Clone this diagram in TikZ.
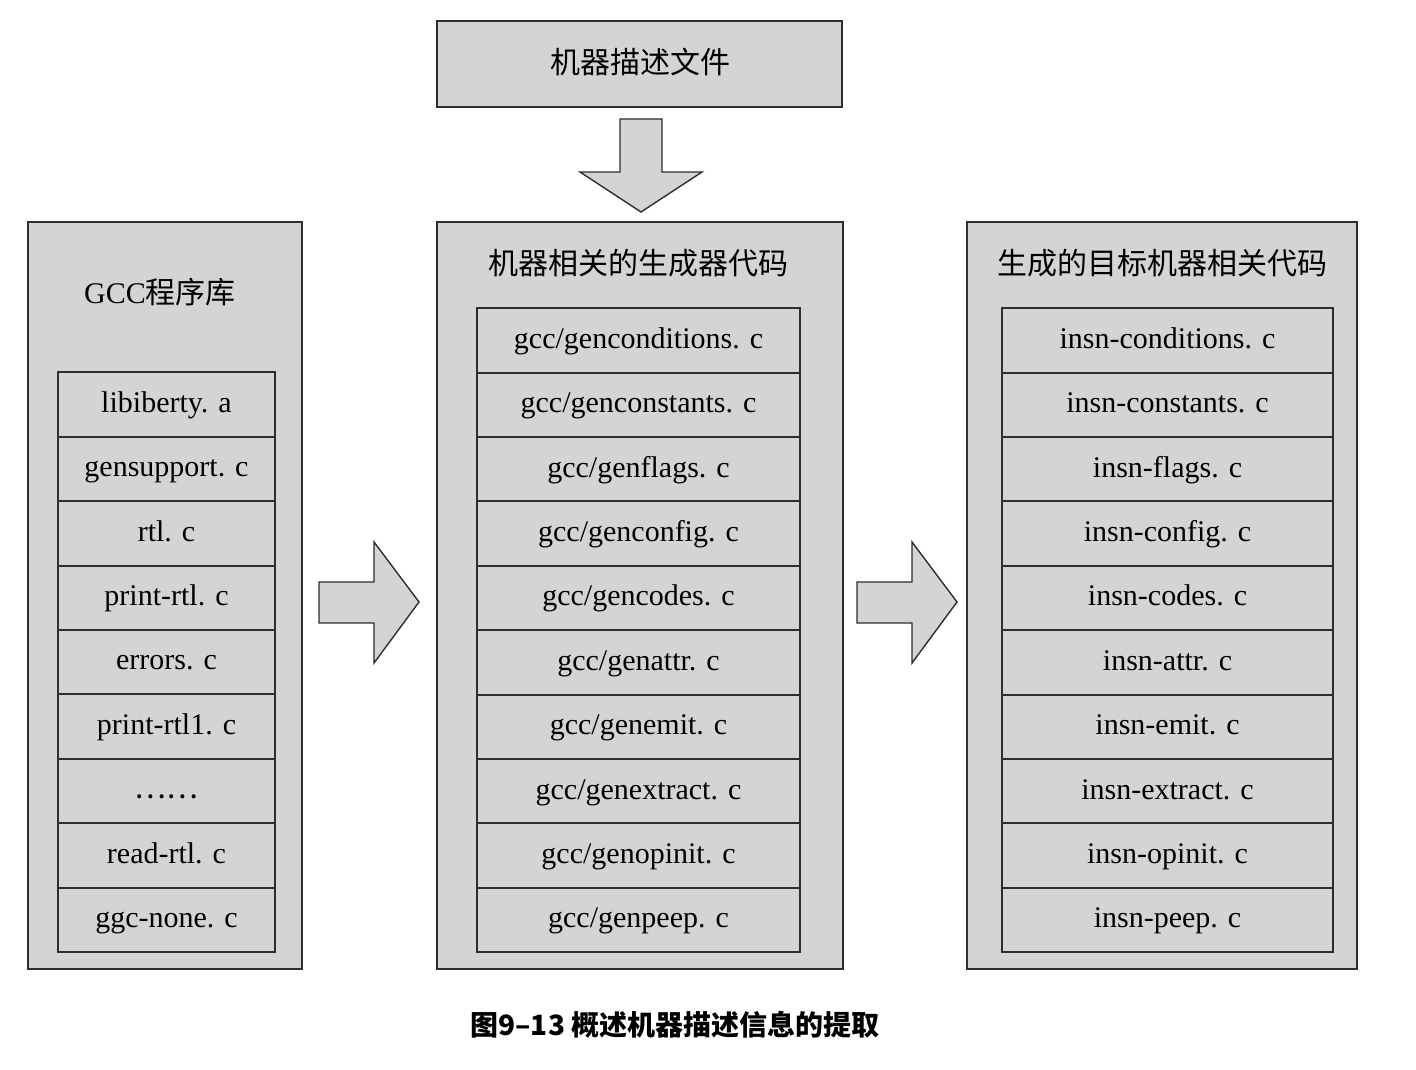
\documentclass[tikz,border=0pt]{standalone}
\usepackage{fontspec}
\setmainfont{Liberation Serif}
\newfontfamily\cjk{Noto Sans CJK SC}
\definecolor{boxfill}{HTML}{D4D4D4}
\definecolor{boxline}{HTML}{2E2E2E}
\begin{document}
\begin{tikzpicture}[x=1pt,y=-1pt,
  panel/.style={draw=boxline,fill=boxfill,line width=1.4pt},
  cell/.style={inner sep=0pt,text height=21pt,text depth=5pt,font=\fontsize{30}{35}\selectfont},
  grid/.style={draw=boxline,line width=2pt},
  ttl/.style={inner sep=0pt,font=\fontsize{30}{36}\selectfont\cjk,text height=26pt,text depth=3.5pt},
  blockarrow/.style={draw=boxline,fill=boxfill,line width=1.4pt,line join=miter}]
\useasboundingbox (0,0) rectangle (1416,1070);
\fill[white] (0,0) rectangle (1416,1070);

% top box
\draw[panel] (437,21) rectangle (842,107);
\node[ttl] (src) at (640,62) {机器描述文件};

% panels
\draw[panel] (28,222) rectangle (302,969);
\draw[panel] (437,222) rectangle (843,969);
\draw[panel] (967,222) rectangle (1357,969);

\node[ttl] (lt) at (160,292) {{\rmfamily GCC}程序库};
\node[ttl] (mt) at (638,263) {机器相关的生成器代码};
\node[ttl] (rt) at (1162,263) {生成的目标机器相关代码};

% left cells
\foreach \t [count=\i] in {libiberty. a,gensupport. c,rtl. c,print-rtl. c,errors. c,print-rtl1. c,{\cjk ……},read-rtl. c,ggc-none. c}{
  \node[cell,minimum width=217pt,minimum height=64.44pt] (l\i) at (166.5,{372+64.44*(\i-0.5)}) {\t};
}
\draw[grid] (l1.north west) rectangle (l9.south east);
\foreach \i in {1,...,8}{\draw[grid] (l\i.south west) -- (l\i.south east);}

% middle cells
\foreach \t [count=\i] in {gcc/genconditions. c,gcc/genconstants. c,gcc/genflags. c,gcc/genconfig. c,gcc/gencodes. c,gcc/genattr. c,gcc/genemit. c,gcc/genextract. c,gcc/genopinit. c,gcc/genpeep. c}{
  \node[cell,minimum width=323pt,minimum height=64.4pt] (m\i) at (638.5,{308+64.4*(\i-0.5)}) {\t};
}
\draw[grid] (m1.north west) rectangle (m10.south east);
\foreach \i in {1,...,9}{\draw[grid] (m\i.south west) -- (m\i.south east);}

% right cells
\foreach \t [count=\i] in {insn-conditions. c,insn-constants. c,insn-flags. c,insn-config. c,insn-codes. c,insn-attr. c,insn-emit. c,insn-extract. c,insn-opinit. c,insn-peep. c}{
  \node[cell,minimum width=331pt,minimum height=64.4pt] (r\i) at (1167.5,{308+64.4*(\i-0.5)}) {\t};
}
\draw[grid] (r1.north west) rectangle (r10.south east);
\foreach \i in {1,...,9}{\draw[grid] (r\i.south west) -- (r\i.south east);}

% block arrows
\draw[blockarrow] (620,119) -- (662,119) -- (662,172) -- (702,172) -- (641,212) -- (580,172) -- (620,172) -- cycle;
\draw[blockarrow] (319,582) -- (374,582) -- (374,542) -- (419,602) -- (374,663) -- (374,623) -- (319,623) -- cycle;
\draw[blockarrow] (857,582) -- (912,582) -- (912,542) -- (957,602) -- (912,663) -- (912,623) -- (857,623) -- cycle;

% caption
\node[inner sep=0pt,font=\fontsize{28}{34}\selectfont\cjk\bfseries] (cap) at (675,1025) {图9–13 概述机器描述信息的提取};
\end{tikzpicture}
\end{document}
